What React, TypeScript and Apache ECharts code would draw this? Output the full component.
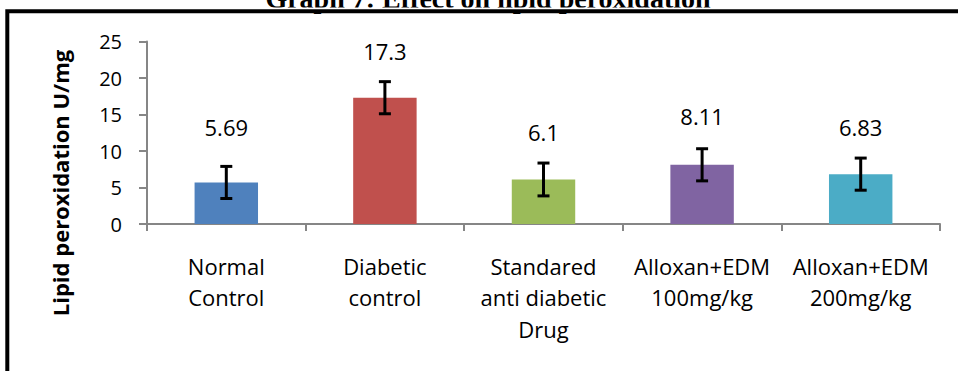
import React, { useEffect, useRef } from "react";
import * as echarts from "echarts";

const categories = [
  "Normal\nControl",
  "Diabetic\ncontrol",
  "Standared\nanti diabetic\nDrug",
  "Alloxan+EDM\n100mg/kg",
  "Alloxan+EDM\n200mg/kg",
];
const values = [5.69, 17.3, 6.1, 8.11, 6.83];
const errors = [2.2, 2.2, 2.25, 2.2, 2.2];
const barColors = ["#4F81BD", "#C0504D", "#9BBB59", "#8064A2", "#4BACC6"];
const labelLift = [44, 36, 36, 38, 36];
const yTicks = { min: 0, max: 25, interval: 5 };
const titleText = "Graph 7: Effect on lipid peroxidation";
const yAxisTitle = "Lipid peroxidation U/mg";

const FONT = '"Open Sans", "Noto Sans", sans-serif';

export default function App() {
  const ref = useRef<HTMLDivElement>(null);
  useEffect(() => {
    if (!ref.current) return;
    const chart = echarts.init(ref.current, null, { renderer: "svg" });
    const axisGray = "#868686";
    chart.setOption({
      animation: false,
      backgroundColor: "#ffffff",
      grid: { left: 147, right: 18, top: 41.5, bottom: 147 },
      xAxis: {
        type: "category",
        data: categories,
        boundaryGap: true,
        axisLine: { show: true, lineStyle: { color: axisGray, width: 2 } },
        axisTick: { show: true, length: 7, lineStyle: { color: axisGray, width: 2 } },
        axisLabel: {
          interval: 0,
          margin: 26,
          fontFamily: FONT,
          fontSize: 22,
          lineHeight: 31.5,
          color: "#000",
        },
        splitLine: { show: false },
      },
      yAxis: {
        type: "value",
        min: yTicks.min,
        max: yTicks.max,
        interval: yTicks.interval,
        axisLine: { show: true, lineStyle: { color: axisGray, width: 2 } },
        axisTick: { show: true, length: 8, lineStyle: { color: axisGray, width: 2 } },
        axisLabel: { margin: 25, fontFamily: FONT, fontSize: 20, color: "#000" },
        splitLine: { show: false },
      },
      series: [
        {
          type: "bar",
          barWidth: "40%",
          data: values.map((v, i) => ({
            value: v,
            itemStyle: { color: barColors[i] },
            label: { offset: [0, -labelLift[i]] },
          })),
          label: {
            show: true,
            position: "top",
            distance: 0,
            fontFamily: FONT,
            fontSize: 22,
            color: "#000",
          },
          z: 2,
        },
        {
          type: "custom",
          z: 3,
          data: values.map((v, i) => [i, v, errors[i]]),
          renderItem: (params: any, api: any) => {
            const x = api.value(0);
            const v = api.value(1);
            const e = api.value(2);
            const top = api.coord([x, v + e]);
            const bot = api.coord([x, v - e]);
            const hw = 6;
            const st = { stroke: "#000", lineWidth: 3 };
            return {
              type: "group",
              children: [
                { type: "line", shape: { x1: top[0], y1: top[1], x2: bot[0], y2: bot[1] }, style: st },
                { type: "line", shape: { x1: top[0] - hw, y1: top[1], x2: top[0] + hw, y2: top[1] }, style: st },
                { type: "line", shape: { x1: bot[0] - hw, y1: bot[1], x2: bot[0] + hw, y2: bot[1] }, style: st },
              ],
            };
          },
        },
      ],
      graphic: [
        {
          type: "text",
          z: 10,
          x: 488,
          y: -2,
          style: {
            text: titleText,
            align: "center",
            verticalAlign: "middle",
            font: 'bold 28px "Liberation Serif", serif',
            fill: "#000",
          },
        },
        {
          type: "rect",
          z: 11,
          shape: { x: 0, y: 7.5, width: 958, height: 3 },
          style: { fill: "#fff" },
        },
        {
          type: "rect",
          z: 12,
          shape: { x: 7.3, y: 11.3, width: 1000, height: 400 },
          style: { fill: null, stroke: "#000", lineWidth: 4 },
        },
        {
          type: "text",
          z: 10,
          x: 60,
          y: 183,
          rotation: Math.PI / 2,
          style: {
            text: yAxisTitle,
            align: "center",
            verticalAlign: "middle",
            font: 'bold 22px "Open Sans", sans-serif',
            fill: "#000",
          },
        },
      ],
    });
    return () => chart.dispose();
  }, []);
  return (
    <div
      ref={ref}
      style={{ position: "absolute", left: 0, top: 0, width: 958, height: 371 }}
    />
  );
}
